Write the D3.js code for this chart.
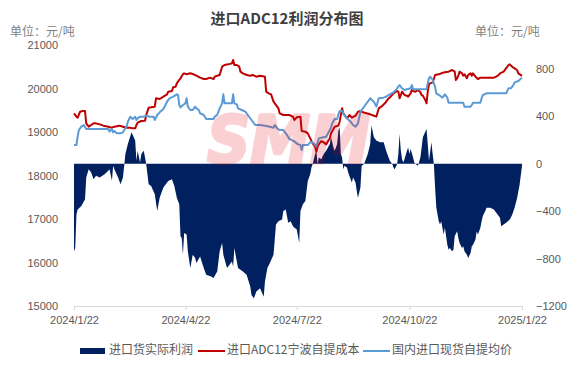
<!DOCTYPE html>
<html>
<head>
<meta charset="utf-8">
<script src="https://cdn.jsdelivr.net/npm/d3@7"></script>
<style>
  body { margin: 0; background: #fff; }
  text { font-family: "Noto Sans CJK SC", "Noto Sans", sans-serif; }
</style>
</head>
<body>
<div id="chart"></div>
<script>
// Data (profit on right axis, prices on left axis)
var profit = [
  ["2024-01-22",-739],["2024-01-23",-711],["2024-01-24",-428],["2024-01-25",-386],["2024-01-28",-358],["2024-01-31",-301],
  ["2024-02-01",-117],["2024-02-03",-47],["2024-02-05",-75],["2024-02-07",-131],["2024-02-09",-103],["2024-02-12",-117],
  ["2024-02-16",-89],["2024-02-19",-61],["2024-02-20",-47],["2024-02-22",-145],["2024-02-23",-18],["2024-02-24",-47],
  ["2024-02-27",-117],["2024-02-29",-174],["2024-03-02",-117],["2024-03-03",-18],["2024-03-04",81],["2024-03-06",165],
  ["2024-03-09",264],["2024-03-12",194],["2024-03-13",24],["2024-03-14",109],["2024-03-16",10],["2024-03-17",81],
  ["2024-03-19",109],["2024-03-21",-4],["2024-03-23",-174],["2024-03-25",-188],["2024-03-28",-259],["2024-03-30",-400],
  ["2024-04-01",-287],["2024-04-04",-202],["2024-04-08",-146],["2024-04-11",-131],["2024-04-13",-188],["2024-04-15",-287],
  ["2024-04-17",-343],["2024-04-18",-612],["2024-04-19",-626],["2024-04-20",-767],["2024-04-21",-584],["2024-04-23",-598],
  ["2024-04-24",-739],["2024-04-26",-880],["2024-04-28",-767],["2024-04-30",-796],["2024-05-01",-838],["2024-05-04",-782],
  ["2024-05-07",-880],["2024-05-09",-937],["2024-05-13",-951],["2024-05-15",-965],["2024-05-18",-909],["2024-05-20",-739],
  ["2024-05-22",-669],["2024-05-23",-767],["2024-05-26",-880],["2024-05-30",-824],["2024-05-31",-866],["2024-06-01",-711],
  ["2024-06-04",-880],["2024-06-08",-909],["2024-06-11",-937],["2024-06-14",-1036],["2024-06-15",-1107],["2024-06-17",-1135],
  ["2024-06-19",-1078],["2024-06-22",-1050],["2024-06-25",-1121],["2024-06-26",-994],["2024-06-28",-880],["2024-06-30",-838],
  ["2024-07-03",-767],["2024-07-05",-513],["2024-07-07",-485],["2024-07-10",-471],["2024-07-11",-400],["2024-07-13",-386],
  ["2024-07-15",-499],["2024-07-17",-485],["2024-07-19",-530],["2024-07-22",-556],["2024-07-23",-612],["2024-07-24",-669],
  ["2024-07-25",-400],["2024-07-27",-343],["2024-07-29",-315],["2024-07-30",-230],["2024-07-31",-146],["2024-08-02",-89],
  ["2024-08-03",-33],["2024-08-04",-4],["2024-08-06",81],["2024-08-07",109],["2024-08-08",-4],["2024-08-09",52],
  ["2024-08-11",38],["2024-08-13",81],["2024-08-15",109],["2024-08-18",165],["2024-08-19",222],["2024-08-21",137],
  ["2024-08-22",109],["2024-08-24",165],["2024-08-25",278],["2024-08-26",307],["2024-08-27",81],["2024-08-28",52],
  ["2024-08-29",-47],["2024-08-30",-18],["2024-09-01",-33],["2024-09-02",-75],["2024-09-04",-131],["2024-09-05",-160],
  ["2024-09-06",-117],["2024-09-08",-160],["2024-09-09",-230],["2024-09-10",-287],["2024-09-12",-202],["2024-09-13",-18],
  ["2024-09-15",-4],["2024-09-18",81],["2024-09-20",165],["2024-09-21",321],["2024-09-23",222],["2024-09-25",194],
  ["2024-09-28",180],["2024-10-01",180],["2024-10-03",109],["2024-10-06",24],["2024-10-08",-4],["2024-10-09",-33],
  ["2024-10-10",-47],["2024-10-12",-4],["2024-10-13",81],["2024-10-14",250],["2024-10-15",109],["2024-10-16",40],
  ["2024-10-17",10],["2024-10-18",38],["2024-10-20",109],["2024-10-21",137],["2024-10-22",81],["2024-10-23",123],
  ["2024-10-25",52],["2024-10-26",10],["2024-10-27",-4],["2024-10-29",-18],["2024-10-31",52],["2024-11-01",137],
  ["2024-11-02",222],["2024-11-05",292],["2024-11-06",165],["2024-11-07",24],["2024-11-09",180],["2024-11-10",81],
  ["2024-11-11",-4],["2024-11-12",-202],["2024-11-13",-372],["2024-11-15",-485],["2024-11-16",-513],["2024-11-17",-485],
  ["2024-11-19",-598],["2024-11-20",-541],["2024-11-22",-683],["2024-11-23",-725],["2024-11-24",-711],["2024-11-26",-739],
  ["2024-11-27",-725],["2024-11-28",-612],["2024-11-30",-570],["2024-12-01",-626],["2024-12-02",-669],["2024-12-04",-711],
  ["2024-12-05",-697],["2024-12-06",-739],["2024-12-08",-767],["2024-12-09",-796],["2024-12-11",-753],["2024-12-12",-697],
  ["2024-12-13",-683],["2024-12-15",-640],["2024-12-16",-570],["2024-12-17",-598],["2024-12-19",-541],["2024-12-20",-485],
  ["2024-12-21",-442],["2024-12-23",-400],["2024-12-24",-372],["2024-12-27",-372],["2024-12-30",-386],["2025-01-01",-414],
  ["2025-01-04",-456],["2025-01-05",-527],["2025-01-07",-513],["2025-01-09",-499],["2025-01-12",-470],["2025-01-14",-430],
  ["2025-01-16",-370],["2025-01-18",-290],["2025-01-20",-180],["2025-01-22",-20]
];

var cost = [
  ["2024-01-22",19429],["2024-01-24",19352],["2024-01-25",19329],["2024-01-27",19467],["2024-01-29",19483],["2024-01-31",19483],
  ["2024-02-01",19199],["2024-02-03",19122],["2024-02-05",19161],["2024-02-07",19199],["2024-02-09",19199],["2024-02-12",19176],
  ["2024-02-15",19146],["2024-02-19",19122],["2024-02-22",19099],["2024-02-24",19122],["2024-02-28",19146],["2024-03-02",19122],
  ["2024-03-05",19099],["2024-03-08",19099],["2024-03-10",19084],["2024-03-12",19084],["2024-03-13",19161],["2024-03-14",19214],
  ["2024-03-17",19253],["2024-03-20",19260],["2024-03-21",19391],["2024-03-23",19559],["2024-03-25",19567],["2024-03-28",19582],
  ["2024-03-29",19774],["2024-04-01",19758],["2024-04-04",19812],["2024-04-07",19866],["2024-04-08",19927],["2024-04-11",19942],
  ["2024-04-12",20027],["2024-04-14",20042],["2024-04-15",20119],["2024-04-17",20200],["2024-04-18",20234],["2024-04-20",20326],
  ["2024-04-21",20349],["2024-04-23",20326],["2024-04-26",20349],["2024-04-28",20333],["2024-05-01",20295],["2024-05-04",20249],
  ["2024-05-07",20218],["2024-05-09",20218],["2024-05-12",20249],["2024-05-15",20218],["2024-05-16",20272],["2024-05-18",20295],
  ["2024-05-20",20310],["2024-05-22",20502],["2024-05-24",20540],["2024-05-27",20555],["2024-05-30",20578],["2024-05-31",20655],
  ["2024-06-01",20540],["2024-06-03",20540],["2024-06-05",20502],["2024-06-06",20387],["2024-06-08",20349],["2024-06-11",20310],
  ["2024-06-14",20295],["2024-06-16",20310],["2024-06-19",20272],["2024-06-22",20295],["2024-06-26",20272],["2024-06-27",19927],
  ["2024-06-29",19889],["2024-07-01",19866],["2024-07-03",19697],["2024-07-06",19582],["2024-07-07",19544],["2024-07-08",19429],
  ["2024-07-11",19391],["2024-07-14",19391],["2024-07-16",19391],["2024-07-19",19350],["2024-07-20",19276],["2024-07-22",19337],
  ["2024-07-25",19352],["2024-07-26",19023],["2024-07-29",19008],["2024-07-31",18969],["2024-08-02",18854],["2024-08-04",18739],
  ["2024-08-06",18663],["2024-08-07",18548],["2024-08-08",18663],["2024-08-09",18716],["2024-08-11",18793],["2024-08-13",18762],
  ["2024-08-15",18716],["2024-08-18",18854],["2024-08-19",18969],["2024-08-22",19122],["2024-08-25",19146],["2024-08-26",19237],
  ["2024-08-28",19544],["2024-08-29",19429],["2024-09-01",19314],["2024-09-03",19391],["2024-09-05",19329],["2024-09-08",19375],
  ["2024-09-10",19467],["2024-09-12",19483],["2024-09-14",19452],["2024-09-17",19429],["2024-09-20",19406],["2024-09-23",19375],
  ["2024-09-25",19352],["2024-09-27",19544],["2024-09-29",19582],["2024-10-02",19659],["2024-10-05",19774],["2024-10-06",19789],
  ["2024-10-09",19889],["2024-10-12",19942],["2024-10-13",19927],["2024-10-14",19774],["2024-10-16",19927],["2024-10-18",19850],
  ["2024-10-20",19835],["2024-10-21",19812],["2024-10-23",19889],["2024-10-24",19965],["2024-10-25",19942],["2024-10-27",19927],
  ["2024-10-29",19965],["2024-10-31",19912],["2024-11-01",19850],["2024-11-02",19835],["2024-11-04",19736],["2024-11-05",19659],
  ["2024-11-06",19927],["2024-11-07",20096],["2024-11-08",20119],["2024-11-10",20142],["2024-11-11",20218],["2024-11-12",20310],
  ["2024-11-15",20326],["2024-11-17",20349],["2024-11-20",20372],["2024-11-23",20387],["2024-11-24",20402],["2024-11-26",20425],
  ["2024-11-28",20387],["2024-11-29",20195],["2024-11-30",20234],["2024-12-01",20295],["2024-12-02",20387],["2024-12-04",20349],
  ["2024-12-05",20295],["2024-12-06",20326],["2024-12-08",20234],["2024-12-09",20310],["2024-12-11",20349],["2024-12-12",20295],
  ["2024-12-13",20349],["2024-12-15",20272],["2024-12-17",20218],["2024-12-19",20249],["2024-12-21",20249],["2024-12-26",20249],
  ["2024-12-30",20249],["2025-01-01",20272],["2025-01-03",20310],["2025-01-04",20349],["2025-01-07",20387],["2025-01-09",20464],
  ["2025-01-11",20540],["2025-01-12",20555],["2025-01-14",20502],["2025-01-15",20479],["2025-01-18",20425],["2025-01-19",20349],
  ["2025-01-22",20290]
];

var price = [
  ["2024-01-22",18701],["2024-01-24",18701],["2024-01-25",18893],["2024-01-26",19046],["2024-01-28",19122],["2024-01-30",19161],
  ["2024-02-01",19069],["2024-02-04",19069],["2024-02-09",19069],["2024-02-15",19069],["2024-02-19",19069],["2024-02-20",19008],
  ["2024-02-22",19069],["2024-02-23",18992],["2024-02-24",19023],["2024-02-26",18969],["2024-02-29",18969],["2024-03-02",18992],
  ["2024-03-03",19046],["2024-03-05",19122],["2024-03-06",19237],["2024-03-08",19352],["2024-03-10",19299],["2024-03-12",19352],
  ["2024-03-13",19276],["2024-03-14",19314],["2024-03-16",19352],["2024-03-19",19352],["2024-03-21",19375],["2024-03-24",19352],
  ["2024-03-27",19352],["2024-03-28",19276],["2024-03-30",19391],["2024-04-01",19452],["2024-04-04",19529],["2024-04-07",19697],
  ["2024-04-09",19774],["2024-04-12",19812],["2024-04-15",19866],["2024-04-16",19850],["2024-04-17",19621],["2024-04-18",19567],
  ["2024-04-20",19620],["2024-04-22",19659],["2024-04-23",19774],["2024-04-24",19582],["2024-04-26",19506],["2024-04-28",19506],
  ["2024-04-30",19582],["2024-05-01",19544],["2024-05-03",19506],["2024-05-04",19429],["2024-05-07",19391],["2024-05-09",19299],
  ["2024-05-12",19299],["2024-05-15",19299],["2024-05-16",19352],["2024-05-18",19391],["2024-05-20",19544],["2024-05-22",19659],
  ["2024-05-23",19866],["2024-05-24",19659],["2024-05-28",19659],["2024-05-30",19659],["2024-05-31",19866],["2024-06-01",19659],
  ["2024-06-03",19636],["2024-06-04",19544],["2024-06-07",19506],["2024-06-10",19467],["2024-06-12",19391],["2024-06-15",19276],
  ["2024-06-18",19161],["2024-06-22",19161],["2024-06-26",19146],["2024-06-30",19122],["2024-07-03",19099],["2024-07-04",19161],
  ["2024-07-06",19084],["2024-07-08",19046],["2024-07-11",19046],["2024-07-14",18931],["2024-07-16",18839],["2024-07-19",18800],
  ["2024-07-21",18762],["2024-07-23",18716],["2024-07-25",18701],["2024-07-26",18586],["2024-07-27",18701],["2024-07-31",18701],
  ["2024-08-02",18762],["2024-08-04",18762],["2024-08-06",18701],["2024-08-07",18663],["2024-08-09",18854],["2024-08-11",18870],
  ["2024-08-15",18893],["2024-08-18",19046],["2024-08-19",19100],["2024-08-20",19199],["2024-08-22",19299],["2024-08-24",19299],
  ["2024-08-25",19406],["2024-08-26",19483],["2024-08-28",19483],["2024-08-29",19429],["2024-09-01",19314],["2024-09-04",19237],
  ["2024-09-06",19161],["2024-09-08",19122],["2024-09-10",19199],["2024-09-12",19467],["2024-09-14",19544],["2024-09-16",19621],
  ["2024-09-20",19774],["2024-09-23",19697],["2024-09-25",19582],["2024-09-27",19774],["2024-10-01",19789],["2024-10-03",19812],
  ["2024-10-06",19866],["2024-10-09",19912],["2024-10-11",19965],["2024-10-13",20042],["2024-10-14",20080],["2024-10-16",20004],
  ["2024-10-18",19965],["2024-10-20",19981],["2024-10-23",20004],["2024-10-24",20080],["2024-10-25",19981],["2024-11-05",19981],
  ["2024-11-06",20119],["2024-11-07",20234],["2024-11-08",20272],["2024-11-10",20195],["2024-11-11",20119],["2024-11-12",20042],
  ["2024-11-13",19889],["2024-11-16",19835],["2024-11-18",19789],["2024-11-20",19866],["2024-11-22",19789],["2024-11-23",19674],
  ["2024-12-05",19674],["2024-12-06",19582],["2024-12-11",19582],["2024-12-12",19621],["2024-12-13",19674],["2024-12-19",19674],
  ["2024-12-20",19774],["2024-12-21",19850],["2024-12-24",19889],["2025-01-09",19889],["2025-01-11",20004],["2025-01-13",20004],
  ["2025-01-15",20080],["2025-01-16",20142],["2025-01-19",20172],["2025-01-22",20250]
];

var xTicks = ["2024-01-22","2024-04-22","2024-07-22","2024-10-22","2025-01-22"];
var leftTicks = [15000,16000,17000,18000,19000,20000,21000];
var rightTicks = [-1200,-800,-400,0,400,800];
var legendNames = ["进口货实际利润","进口ADC12宁波自提成本","国内进口现货自提均价"];

var colors = {profit: "#002060", cost: "#c00000", price: "#5b9bd5"};

// Screen variables
var W = 575, H = 389;
var plot = {left: 74, right: 522, top: 45, bottom: 306};

var svg = d3.select("#chart")
            .append("svg")
            .attr("width", W)
            .attr("height", H)
            .style("display", "block");

svg.append("rect").attr("width", W).attr("height", H).attr("fill", "#fff");

var parse = d3.timeParse("%Y-%m-%d");
var fmt = d3.timeFormat("%Y/%-m/%-d");

// Scales
var x = d3.scaleTime()
          .domain([parse("2024-01-22"), parse("2025-01-22")])
          .range([plot.left, plot.right]);
var yL = d3.scaleLinear().domain([15000, 21000]).range([plot.bottom, plot.top]);
var yR = d3.scaleLinear().domain([-1200, 1000]).range([plot.bottom, plot.top]);

// Profit area (right axis)
var area = d3.area()
             .x(d => x(parse(d[0])))
             .y0(yR(0))
             .y1(d => yR(d[1]));

svg.append("path")
   .datum(profit)
   .attr("d", area)
   .attr("fill", colors.profit);

// Price lines (left axis)
var line = d3.line()
             .x(d => x(parse(d[0])))
             .y(d => yL(d[1]));

svg.append("path")
   .datum(cost)
   .attr("d", line)
   .attr("fill", "none")
   .attr("stroke", colors.cost)
   .attr("stroke-width", 2)
   .attr("stroke-linejoin", "round");

svg.append("path")
   .datum(price)
   .attr("d", line)
   .attr("fill", "none")
   .attr("stroke", colors.price)
   .attr("stroke-width", 2)
   .attr("stroke-linejoin", "round");

// Watermark sits on top, semi transparent (group opacity so stroke and fill don't double up)
svg.append("g")
   .attr("opacity", 0.18)
   .append("text")
   .attr("x", 207)
   .attr("y", yR(0) - 1)
   .attr("textLength", 163)
   .attr("lengthAdjust", "spacingAndGlyphs")
   .attr("font-size", 66)
   .attr("font-weight", "bold")
   .attr("font-style", "italic")
   .attr("fill", "#e60012")
   .attr("stroke", "#e60012")
   .attr("stroke-width", 3)
   .attr("stroke-linejoin", "round")
   .style("font-family", "DejaVu Sans")
   .text("SMM");

// X axis
var bottomAxis = d3.axisBottom(x)
                   .tickValues(xTicks.map(parse))
                   .tickFormat(fmt)
                   .tickSize(4)
                   .tickSizeOuter(0);

var gx = svg.append("g")
            .attr("transform", "translate(0," + plot.bottom + ")")
            .call(bottomAxis);
gx.select(".domain").attr("stroke", "#d9d9d9");
gx.selectAll(".tick line").attr("stroke", "#d9d9d9");
gx.selectAll(".tick text")
  .attr("y", 10)
  .attr("fill", "#595959")
  .attr("font-size", 11)
  .style("font-family", "Liberation Sans, sans-serif");

// Left and right axes (labels only)
var gl = svg.append("g")
            .attr("transform", "translate(" + (plot.left - 13) + ",0)")
            .call(d3.axisLeft(yL).tickValues(leftTicks).tickSize(0).tickFormat(d3.format("d")));
var gr = svg.append("g")
            .attr("transform", "translate(" + (plot.right + 11) + ",0)")
            .call(d3.axisRight(yR).tickValues(rightTicks).tickSize(0).tickFormat(d3.format("d")));
[gl, gr].forEach(function(g) {
    g.select(".domain").remove();
    g.selectAll(".tick text")
     .attr("fill", "#595959")
     .attr("font-size", 11)
     .style("font-family", "Liberation Sans, sans-serif");
});

// Title and units
svg.append("text")
   .attr("x", 287)
   .attr("y", 20)
   .attr("text-anchor", "middle")
   .attr("dominant-baseline", "middle")
   .attr("font-size", 15)
   .attr("font-weight", "bold")
   .attr("fill", "#404040")
   .text("进口ADC12利润分布图");

svg.selectAll(".unit")
   .data([10, 475])
   .enter()
   .append("text")
   .attr("class", "unit")
   .attr("x", d => d)
   .attr("y", 33)
   .attr("dominant-baseline", "middle")
   .attr("font-size", 12)
   .attr("fill", "#7f7f7f")
   .text("单位：元/吨");

// Legend
var legendX = [80, 198, 363];
var leg = svg.append("g");
leg.append("rect")
   .attr("x", legendX[0]).attr("y", 348)
   .attr("width", 25).attr("height", 6)
   .attr("fill", colors.profit);
[colors.cost, colors.price].forEach(function(c, i) {
    leg.append("line")
       .attr("x1", legendX[i + 1]).attr("x2", legendX[i + 1] + 27)
       .attr("y1", 351).attr("y2", 351)
       .attr("stroke", c)
       .attr("stroke-width", 2);
});
leg.selectAll("text")
   .data(legendNames)
   .enter()
   .append("text")
   .attr("x", (d, i) => legendX[i] + 29)
   .attr("y", 351)
   .attr("dominant-baseline", "middle")
   .attr("font-size", 12)
   .attr("fill", "#595959")
   .text(d => d);
</script>
</body>
</html>
